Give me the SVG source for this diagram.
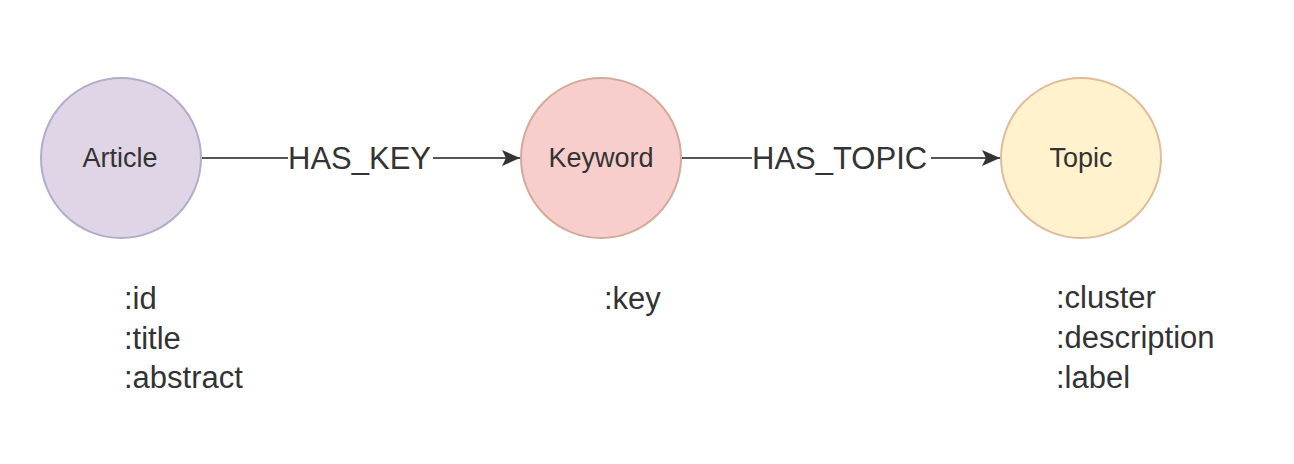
<svg xmlns="http://www.w3.org/2000/svg" width="1294" height="464" viewBox="0 0 1294 464">
  <style>
    .node-label { font-family: "Liberation Sans", Arial, sans-serif; font-size: 27px; fill: #333333; text-anchor: middle; }
    .edge-label { font-family: "Liberation Sans", Arial, sans-serif; font-size: 31px; fill: #333333; }
    .prop { font-family: "Liberation Sans", Arial, sans-serif; font-size: 31px; fill: #333333; }
    .edge { stroke: #555555; stroke-width: 2; fill: none; }
  </style>
  <defs>
    <marker id="arrow" viewBox="0 0 18 16" refX="18" refY="8" markerWidth="18" markerHeight="16" markerUnits="userSpaceOnUse" orient="auto">
      <path d="M0,0 L18,8 L0,16 L4,8 Z" fill="#333333"/>
    </marker>
  </defs>
  <rect width="1294" height="464" fill="#ffffff"/>

  <g id="connectors">
    <line class="edge" x1="202" y1="158" x2="288" y2="158"/>
    <line class="edge" x1="433" y1="158" x2="520" y2="158" marker-end="url(#arrow)"/>
    <text class="edge-label" x="288" y="169">HAS_KEY</text>
    <line class="edge" x1="682" y1="158" x2="752" y2="158"/>
    <line class="edge" x1="931" y1="158" x2="1000" y2="158" marker-end="url(#arrow)"/>
    <text class="edge-label" x="752" y="169">HAS_TOPIC</text>
  </g>

  <g id="article">
    <circle cx="121" cy="158" r="80" fill="#e0d5e7" stroke="#b2adc8" stroke-width="2"/>
    <text class="node-label" x="120" y="167">Article</text>
    <text class="prop" x="124" y="309">:id</text>
    <text class="prop" x="124" y="349">:title</text>
    <text class="prop" x="124" y="388">:abstract</text>
  </g>

  <g id="keyword">
    <circle cx="601" cy="158" r="80" fill="#f8cecc" stroke="#d4aa98" stroke-width="2"/>
    <text class="node-label" x="601" y="167">Keyword</text>
    <text class="prop" x="604" y="309">:key</text>
  </g>

  <g id="topic">
    <circle cx="1081" cy="158" r="80" fill="#fff2cc" stroke="#e0bc9c" stroke-width="2"/>
    <text class="node-label" x="1081" y="167">Topic</text>
    <text class="prop" x="1056" y="308">:cluster</text>
    <text class="prop" x="1056" y="348">:description</text>
    <text class="prop" x="1056" y="388">:label</text>
  </g>
</svg>
